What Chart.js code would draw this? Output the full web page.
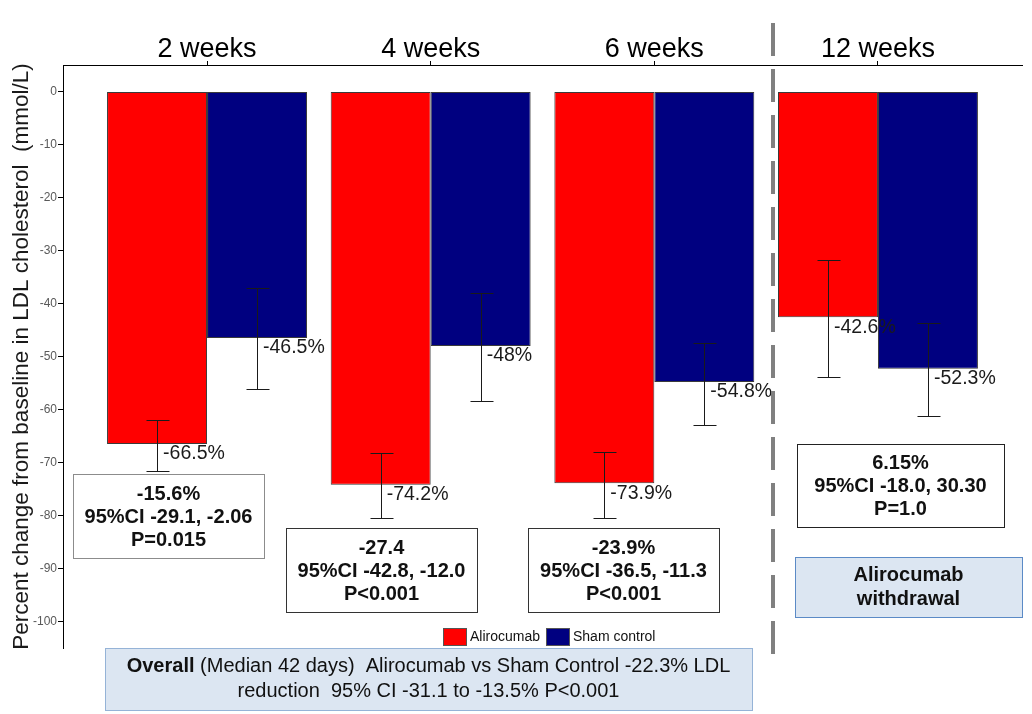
<!DOCTYPE html>
<html>
<head>
<meta charset="utf-8">
<title>LDL cholesterol - Alirocumab vs Sham</title>
<script src="https://cdn.jsdelivr.net/npm/chart.js@4.4.0/dist/chart.umd.min.js"></script>
<style>
    body { margin: 0; background: #fff; }
    #wrap { width: 1032px; height: 714px; }
</style>
</head>
<body>
<div id="wrap"><canvas id="ldlChart" width="1032" height="714"></canvas></div>
<script>
// datos del grafico
const weeks = ['2 weeks', '4 weeks', '6 weeks', '12 weeks'];
const alirocumab = [-66.5, -74.2, -73.9, -42.6];
const alirocumabLow = [-71.6, -80.5, -80.4, -53.8];
const alirocumabHigh = [-62.0, -68.3, -68.0, -31.8];
const sham = [-46.5, -48, -54.8, -52.3];
const shamLow = [-56.2, -58.4, -62.9, -61.2];
const shamHigh = [-37.1, -38.1, -47.4, -43.7];
const yTicks = [0, -10, -20, -30, -40, -50, -60, -70, -80, -90, -100];

// textos de las cajas
const diffText = ['-15.6%', '-27.4', '-23.9%', '6.15%'];
const ciText = ['95%CI -29.1, -2.06', '95%CI -42.8, -12.0', '95%CI -36.5, -11.3', '95%CI -18.0, 30.30'];
const pText = ['P=0.015', 'P<0.001', 'P<0.001', 'P=1.0'];
const withdrawalText = ['Alirocumab', 'withdrawal'];
const overallBold = 'Overall';
const overallLine1 = ' (Median 42 days)  Alirocumab vs Sham Control -22.3% LDL';
const overallLine2 = 'reduction  95% CI -31.1 to -13.5% P<0.001';

// posicion de las cajas (pixeles)
const boxes = [
    { x: 73, y: 474, w: 191, h: 84, border: '#8c8c8c' },
    { x: 286, y: 528, w: 191, h: 84, border: '#333333' },
    { x: 528, y: 528, w: 191, h: 84, border: '#333333' },
    { x: 797, y: 444, w: 207, h: 83, border: '#222222' }
];

const FONT = '"Liberation Sans", Arial, sans-serif';
Chart.defaults.font.family = FONT;

function drawBox(ctx, x, y, w, h, fill, stroke) {
    ctx.fillStyle = fill;
    ctx.fillRect(x, y, w, h);
    ctx.strokeStyle = stroke;
    ctx.lineWidth = 1;
    ctx.strokeRect(x + 0.5, y + 0.5, w, h);
}

const extras = {
    id: 'extras',
    afterDatasetsDraw(chart) {
        const ctx = chart.ctx;
        const y = chart.scales.y;
        const series = [
            { values: alirocumab, low: alirocumabLow, high: alirocumabHigh },
            { values: sham, low: shamLow, high: shamHigh }
        ];
        ctx.save();
        series.forEach((s, d) => {
            chart.getDatasetMeta(d).data.forEach((bar, i) => {
                const top = Math.round(y.getPixelForValue(s.high[i])) + 0.5;
                const bottom = Math.round(y.getPixelForValue(s.low[i])) + 0.5;
                const cx = Math.round(bar.x) + 0.5;
                ctx.strokeStyle = '#1a1a1a';
                ctx.lineWidth = 1;
                ctx.beginPath();
                ctx.moveTo(cx, top);
                ctx.lineTo(cx, bottom);
                ctx.moveTo(cx - 11, top);
                ctx.lineTo(cx + 12, top);
                ctx.moveTo(cx - 11, bottom);
                ctx.lineTo(cx + 12, bottom);
                ctx.stroke();

                // etiqueta del valor
                ctx.fillStyle = '#1a1a1a';
                ctx.font = '19.5px ' + FONT;
                ctx.textAlign = 'left';
                ctx.textBaseline = 'middle';
                ctx.fillText(s.values[i] + '%', bar.x + 6, bar.y + 10);
            });
        });
        ctx.restore();
    },
    afterDraw(chart) {
        const ctx = chart.ctx;
        const x = chart.scales.x;
        ctx.save();

        // cajas con diferencias
        boxes.forEach((b, i) => {
            drawBox(ctx, b.x, b.y, b.w, b.h, '#ffffff', b.border);
            const cx = b.x + b.w / 2;
            const cy = b.y + b.h / 2;
            ctx.fillStyle = '#111';
            ctx.font = 'bold 20px ' + FONT;
            ctx.textAlign = 'center';
            ctx.textBaseline = 'middle';
            ctx.fillText(diffText[i], cx, cy - 22);
            ctx.fillText(ciText[i], cx, cy + 1);
            ctx.fillText(pText[i], cx, cy + 24);
        });

        // caja de withdrawal
        drawBox(ctx, 795, 557, 227, 60, '#dce6f2', '#5b8ac6');
        ctx.fillStyle = '#111';
        ctx.font = 'bold 20px ' + FONT;
        ctx.textAlign = 'center';
        ctx.textBaseline = 'middle';
        ctx.fillText(withdrawalText[0], 908.5, 575);
        ctx.fillText(withdrawalText[1], 908.5, 599);

        // leyenda
        const legendPos = [443, 546];
        ctx.font = '14px ' + FONT;
        ctx.textAlign = 'left';
        chart.data.datasets.forEach((ds, i) => {
            const lx = legendPos[i];
            ctx.fillStyle = ds.backgroundColor;
            ctx.fillRect(lx, 628, 23, 17);
            ctx.strokeStyle = '#555';
            ctx.strokeRect(lx + 0.5, 628.5, 23, 17);
            ctx.fillStyle = '#111';
            ctx.fillText(ds.label, lx + 27, 637);
        });

        // caja overall
        drawBox(ctx, 105, 648, 647, 62, '#dce6f2', '#95b3d7');
        ctx.fillStyle = '#111';
        ctx.textBaseline = 'middle';
        ctx.font = 'bold 20px ' + FONT;
        const wBold = ctx.measureText(overallBold).width;
        ctx.font = '20px ' + FONT;
        const wRest = ctx.measureText(overallLine1).width;
        const startX = 428.5 - (wBold + wRest) / 2;
        ctx.textAlign = 'left';
        ctx.font = 'bold 20px ' + FONT;
        ctx.fillText(overallBold, startX, 666);
        ctx.font = '20px ' + FONT;
        ctx.fillText(overallLine1, startX + wBold, 666);
        ctx.textAlign = 'center';
        ctx.fillText(overallLine2, 428.5, 691);

        // linea discontinua
        const dx = Math.round(x.getPixelForValue(2.53));
        ctx.strokeStyle = '#808080';
        ctx.lineWidth = 4;
        ctx.setLineDash([33, 13]);
        ctx.beginPath();
        ctx.moveTo(dx, 23);
        ctx.lineTo(dx, 664);
        ctx.stroke();
        ctx.restore();
    }
};

const ctx = document.getElementById('ldlChart').getContext('2d');
new Chart(ctx, {
    type: 'bar',
    data: {
        datasets: [
            {
                label: 'Alirocumab',
                data: alirocumab.map((v, i) => ({ x: i, y: v })),
                backgroundColor: '#ff0000',
                borderColor: '#3a3a3a',
                borderWidth: 1,
                borderSkipped: false,
                barPercentage: 1,
                categoryPercentage: 0.894
            },
            {
                label: 'Sham control',
                data: sham.map((v, i) => ({ x: i, y: v })),
                backgroundColor: '#000080',
                borderColor: '#3a3a3a',
                borderWidth: 1,
                borderSkipped: false,
                barPercentage: 1,
                categoryPercentage: 0.894
            }
        ]
    },
    options: {
        responsive: false,
        animation: false,
        layout: {
            padding: { left: 0, top: 0, right: 10, bottom: 66 }
        },
        plugins: {
            legend: { display: false },
            tooltip: { enabled: false }
        },
        scales: {
            x: {
                type: 'linear',
                position: 'top',
                min: -0.644,
                max: 3.644,
                offset: false,
                afterBuildTicks: (axis) => {
                    axis.ticks = weeks.map((w, i) => ({ value: i }));
                },
                afterFit: (axis) => {
                    axis.height = 65;
                },
                ticks: {
                    callback: (value) => weeks[value],
                    color: '#000',
                    font: { size: 27, lineHeight: 1 },
                    padding: -2,
                    maxRotation: 0,
                    autoSkip: false
                },
                grid: {
                    offset: false,
                    drawOnChartArea: false,
                    tickLength: 4,
                    color: '#000'
                },
                border: { color: '#000' }
            },
            y: {
                min: -105,
                max: 5,
                afterBuildTicks: (axis) => {
                    axis.ticks = yTicks.map((v) => ({ value: v }));
                },
                afterFit: (axis) => {
                    axis.width = 63;
                },
                ticks: {
                    color: '#595959',
                    font: { size: 12 },
                    padding: 1
                },
                grid: {
                    drawOnChartArea: false,
                    tickLength: 5,
                    color: '#000'
                },
                border: { color: '#000' },
                title: {
                    display: true,
                    text: 'Percent change from baseline in LDL cholesterol  (mmol/L)',
                    color: '#1a1a1a',
                    font: { size: 22.5 },
                    padding: { top: 8, bottom: 0 }
                }
            }
        }
    },
    plugins: [extras]
});
</script>
</body>
</html>
